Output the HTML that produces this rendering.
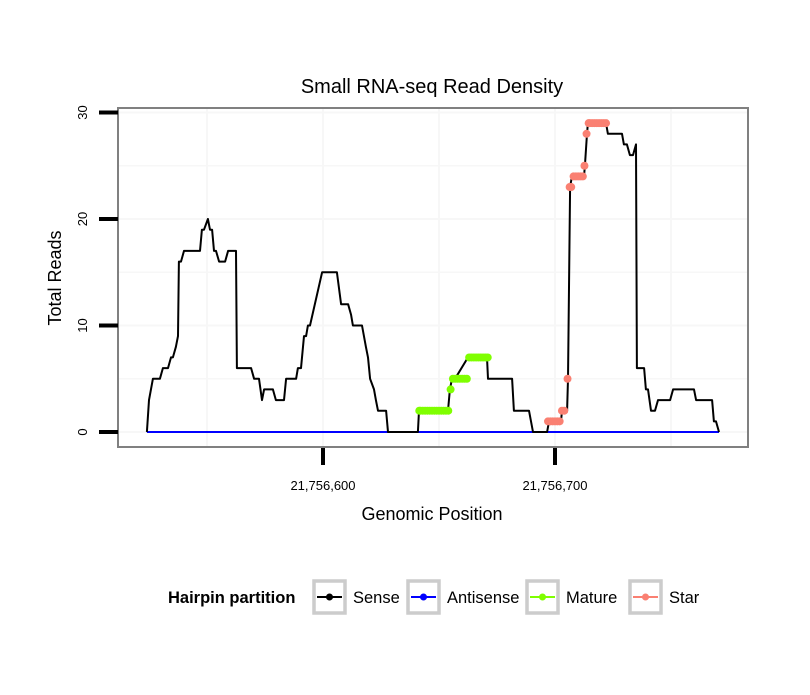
<!DOCTYPE html>
<html><head><meta charset="utf-8"><style>
body{margin:0;background:#fff;}
svg text{font-family:"Liberation Sans",sans-serif;}
</style></head><body>
<svg id="chart" width="810" height="690" xmlns="http://www.w3.org/2000/svg">
<rect width="810" height="690" fill="#fff"/>
<text x="432" y="93" font-size="20" text-anchor="middle">Small RNA-seq Read Density</text>
<g id="grid"></g>
<g id="series"></g>
<rect x="118" y="108" width="630" height="339" fill="none" stroke="#808080" stroke-width="2"/>
<g id="axes"></g>
<text x="432" y="520" font-size="18" text-anchor="middle">Genomic Position</text>
<text transform="translate(61,278) rotate(-90)" font-size="18" text-anchor="middle">Total Reads</text>
<g>
<text x="168" y="603" font-size="16.5" font-weight="bold">Hairpin partition</text>
<g><rect x="314" y="581" width="31" height="32" fill="#fff" stroke="#ccc" stroke-width="3.5"/><line x1="317" y1="597" x2="342" y2="597" stroke="#000" stroke-width="2"/><circle cx="329.5" cy="597" r="3.5" fill="#000"/><text x="353" y="603" font-size="16.5">Sense</text></g>
<g><rect x="408" y="581" width="31" height="32" fill="#fff" stroke="#ccc" stroke-width="3.5"/><line x1="411" y1="597" x2="436" y2="597" stroke="#0000ff" stroke-width="2"/><circle cx="423.5" cy="597" r="3.5" fill="#0000ff"/><text x="447" y="603" font-size="16.5">Antisense</text></g>
<g><rect x="527" y="581" width="31" height="32" fill="#fff" stroke="#ccc" stroke-width="3.5"/><line x1="530" y1="597" x2="555" y2="597" stroke="#7fff00" stroke-width="2"/><circle cx="542.5" cy="597" r="3.5" fill="#7fff00"/><text x="566" y="603" font-size="16.5">Mature</text></g>
<g><rect x="630" y="581" width="31" height="32" fill="#fff" stroke="#ccc" stroke-width="3.5"/><line x1="633" y1="597" x2="658" y2="597" stroke="#fa8072" stroke-width="2"/><circle cx="645.5" cy="597" r="3.5" fill="#fa8072"/><text x="669" y="603" font-size="16.5">Star</text></g>
</g>
</svg>
<script>
const xOffset = 21756000;
const senseX = [524.1,525,526.7,529.7,531,533.2,534.5,535.3,536.6,537.5,537.9,538.8,540.1,547,547.8,548.7,550.4,551.3,552.2,553,553.9,555.2,557.8,559.1,562.5,562.9,569,570.3,572.4,573.7,574.6,578.4,579.7,583.2,584.1,588.4,589.2,590.5,591.8,592.7,593.5,594.4,599.6,606,607.8,610.8,612.1,612.9,613.8,616.8,618.5,619.4,620.3,622,622.8,623.7,627.2,628,640.9,641.4,653.9,654.7,655.6,656.9,662.5,670.7,671.1,681.5,682.3,688.8,690.5,696.6,697.4,702.6,703,705.2,705.6,706.5,707.3,712.5,712.9,713.8,714.2,722,722.8,728.9,729.7,731,732.3,733.6,734.9,735.3,738.4,739.2,740.1,741.4,743.1,744.4,749.6,750.9,759.9,760.8,767.7,768.5,769.4,770.7];
const senseY = [0,3,5,5,6,6,7,7,8,9,16,16,17,17,19,19,20,19,19,17,17,16,16,17,17,6,6,5,5,3,4,4,3,3,5,5,6,6,9,9,10,10,15,15,12,12,11,10,10,10,8,7,5,4,3,2,2,0,0,2,2,4,5,5,7,7,5,5,2,2,0,0,1,1,2,2,5,23,24,24,25,28,29,29,28,28,27,27,26,26,27,6,6,4,4,2,2,3,3,4,4,3,3,1,1,0];
const antisenseX = [524.1,770.7];
const antisenseY = [0,0];
const matureX = [641.5,642,643,644,645,646,647,648,649,650,651,652,653,654,655,656,657,658,659,660,661,662,663,664,665,666,667,668,669,670,671];
const matureY = [2,2,2,2,2,2,2,2,2,2,2,2,2,2,4,5,5,5,5,5,5,5,7,7,7,7,7,7,7,7,7];
const starX = [697,698,699,700,701,702,703,704,705.4,706.3,707,708,709,710,711,712,712.7,713.6,714.5,715,716,717,718,719,720,721,722];
const starY = [1,1,1,1,1,1,2,2,5,23,23,24,24,24,24,24,25,28,29,29,29,29,29,29,29,29,29];
const xTicks = [21756600, 21756700];
const xTickLabels = ["21,756,600","21,756,700"];
const xMinor = [21756550, 21756650, 21756750];
const yTicks = [0,10,20,30];
const yMinor = [5,15,25];

const NS = "http://www.w3.org/2000/svg";
function xs(v){ return 323 + (v - 21756600) * 2.32; }
function ys(v){ return 432 - v * 10.65; }
function mk(tag, attrs, parent){ const e = document.createElementNS(NS, tag); for (const k in attrs) e.setAttribute(k, attrs[k]); parent.appendChild(e); return e; }
const grid = document.getElementById('grid'), series = document.getElementById('series'), axes = document.getElementById('axes');
yMinor.concat(yTicks).forEach(v => {
  const l = mk('line', {x1:119, x2:747, y1:ys(v), y2:ys(v), stroke:'#f7f7f7', 'stroke-width': yTicks.includes(v)?2:1.5}, grid);
  
  
});
xMinor.concat(xTicks).forEach(v => {
  const l = mk('line', {x1:xs(v), x2:xs(v), y1:109, y2:446, stroke:'#f7f7f7', 'stroke-width': 2}, grid);
  
  
});
function drawLine(X, Y, color, name){
  const p = X.map((x,i) => xs(xOffset + x).toFixed(1) + ',' + ys(Y[i]).toFixed(1)).join(' ');
  const pl = mk('polyline', {points:p, fill:'none', stroke:color, 'stroke-width':2, 'stroke-linejoin':'round'}, series);
  
  
}
function drawPts(X, Y, color, name){
  X.forEach((x,i) => {
    const c = mk('circle', {cx:xs(xOffset + x), cy:ys(Y[i]), r:4, fill:color}, series);
    
    
  });
}
drawLine(antisenseX, antisenseY, '#0000ff', 'antisense-line');
drawLine(senseX, senseY, '#000', 'sense-line');
drawPts(matureX, matureY, '#7fff00', 'mature-point');
drawPts(starX, starY, '#fa8072', 'star-point');
yTicks.forEach(v => {
  const t = mk('line', {x1:99, x2:118, y1:ys(v), y2:ys(v), stroke:'#000', 'stroke-width':4}, axes);
  
  
  const tx = mk('text', {transform:`translate(87,${ys(v)}) rotate(-90)`, 'font-size':13, 'text-anchor':'middle'}, axes);
  tx.textContent = v;
  
  
});
xTicks.forEach((v,i) => {
  const t = mk('line', {x1:xs(v), x2:xs(v), y1:448, y2:465, stroke:'#000', 'stroke-width':4}, axes);
  
  
  const tx = mk('text', {x:xs(v), y:490, 'font-size':13, 'text-anchor':'middle'}, axes);
  tx.textContent = xTickLabels[i];
  
  
});
</script>
</body></html>
